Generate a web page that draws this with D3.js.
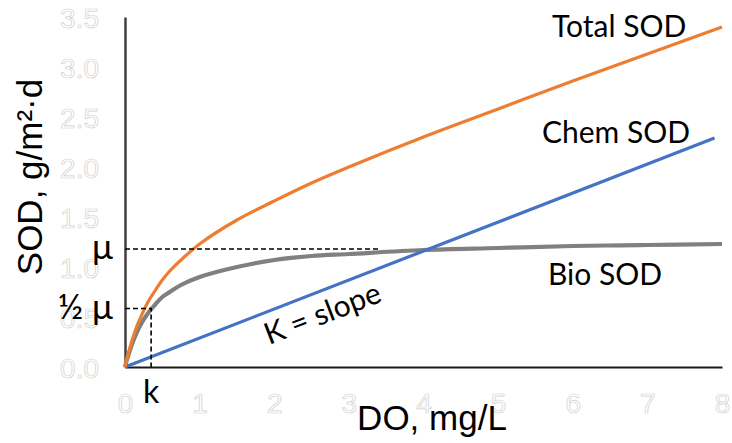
<!DOCTYPE html>
<html>
<head>
<meta charset="utf-8">
<script src="https://cdn.jsdelivr.net/npm/d3@7"></script>
<style>
  html, body { margin: 0; padding: 0; background: #fff; }
  svg { display: block; }
  .tick text { font-family: "Liberation Sans", Arial, sans-serif; font-size: 28px; fill: #fff; stroke: #cfcfcf; stroke-width: 0.7px; }
  .lbl { font-family: Lato, "Open Sans", sans-serif; fill: #000; }
  .title { font-family: "Liberation Sans", Arial, sans-serif; fill: #000; font-size: 35px; }
</style>
</head>
<body>
<svg id="chart" width="732" height="443"></svg>
<script>
// Dissolved oxygen (mg/L) sample points
const doValues = [0, 0.02, 0.05, 0.1, 0.15, 0.2, 0.3, 0.4, 0.5, 0.6, 0.75, 1, 1.5, 2, 2.5, 3, 4, 5, 6, 7, 8];
// Total sediment oxygen demand, g/m²·d
const totalSOD = [0, 0.065, 0.15, 0.28, 0.39, 0.48, 0.64, 0.76, 0.87, 0.96, 1.07, 1.23, 1.47, 1.66, 1.84, 2.0, 2.3, 2.58, 2.86, 3.13, 3.4];
// Biological SOD (saturating)
const bioSOD = [0, 0.057, 0.13, 0.24, 0.33, 0.41, 0.53, 0.62, 0.7, 0.75, 0.82, 0.9, 1.0, 1.07, 1.11, 1.13, 1.17, 1.19, 1.21, 1.22, 1.23];
// Chemical SOD (linear)
const chemDO = [0, 7.9];
const chemSOD = [0, 2.29];

const xTicks = [0, 1, 2, 3, 4, 5, 6, 7, 8];
const yTicks = [0, 0.5, 1, 1.5, 2, 2.5, 3, 3.5];

// Half-saturation markers
const muValue = 1.18;
const muEndDO = 3.4;
const halfMu = 0.585;
const kValue = 0.35;

const svg = d3.select("#chart");
const x = d3.scaleLinear().domain([0, 8]).range([125, 722]);
const y = d3.scaleLinear().domain([0, 3.5]).range([367, 17]);

// Axes
const gx = svg.append("g").attr("transform", `translate(0,${y(0)})`)
  .call(d3.axisBottom(x).tickValues(xTicks).tickFormat(d3.format("d")).tickSize(0).tickPadding(26));
gx.select(".domain").attr("stroke", "#1a1a1a").attr("stroke-width", 2);

const gy = svg.append("g").attr("transform", `translate(${x(0)},0)`)
  .call(d3.axisLeft(y).tickValues(yTicks).tickFormat(d3.format(".1f")).tickSize(0).tickPadding(26));
gy.select(".domain").attr("stroke", "#404040").attr("stroke-width", 2.5);
gy.selectAll(".tick text").attr("dy", "0.38em");
svg.selectAll(".tick text").attr("font-family", null).attr("font-size", null).attr("fill", null);

// Curves
const line = d3.line().x(d => x(d[0])).y(d => y(d[1])).curve(d3.curveCatmullRom.alpha(0.5));

svg.append("path")
  .datum(doValues.map((d, i) => [d, bioSOD[i]]))
  .attr("d", line).attr("fill", "none").attr("stroke", "#808080").attr("stroke-width", 4.2);

svg.append("path")
  .datum(chemDO.map((d, i) => [d, chemSOD[i]]))
  .attr("d", line).attr("fill", "none").attr("stroke", "#4472C4").attr("stroke-width", 3.2);

svg.append("path")
  .datum(doValues.map((d, i) => [d, totalSOD[i]]))
  .attr("d", line).attr("fill", "none").attr("stroke", "#ED7D31").attr("stroke-width", 3.2);

// Dashed reference lines
const dash = g => g.attr("stroke", "#000").attr("stroke-width", 1.6).attr("stroke-dasharray", "5,3").attr("fill", "none");
svg.append("line").attr("x1", x(0)).attr("x2", x(muEndDO)).attr("y1", y(muValue)).attr("y2", y(muValue)).call(dash);
svg.append("path")
  .attr("d", `M${x(0)},${y(halfMu)}H${x(kValue)}V${y(0)}`).call(dash);

// Annotations
svg.append("text").attr("class", "lbl").attr("x", 113).attr("y", y(muValue) + 10)
  .attr("text-anchor", "end").attr("font-size", 35).text("μ");
svg.append("text").attr("class", "lbl").attr("x", 113).attr("y", y(halfMu) + 10)
  .attr("text-anchor", "end").attr("font-size", 35).text("½ μ");
svg.append("text").attr("class", "lbl").attr("x", x(kValue)).attr("y", 403)
  .attr("text-anchor", "middle").attr("font-size", 32).text("k");

svg.append("text").attr("class", "lbl").attr("x", 552).attr("y", 37).attr("font-size", 30).text("Total SOD");
svg.append("text").attr("class", "lbl").attr("x", 542).attr("y", 143).attr("font-size", 30).text("Chem SOD");
svg.append("text").attr("class", "lbl").attr("x", 548).attr("y", 285).attr("font-size", 30).text("Bio SOD");
svg.append("text").attr("class", "lbl").attr("font-size", 30)
  .attr("transform", "translate(269,345) rotate(-21)").text("K = slope");

// Axis titles
svg.append("text").attr("class", "title").attr("x", 432).attr("y", 430)
  .attr("text-anchor", "middle").text("DO, mg/L");
svg.append("text").attr("class", "title").attr("text-anchor", "middle")
  .attr("transform", "translate(42,177) rotate(-90)").text("SOD, g/m²·d");
</script>
</body>
</html>
